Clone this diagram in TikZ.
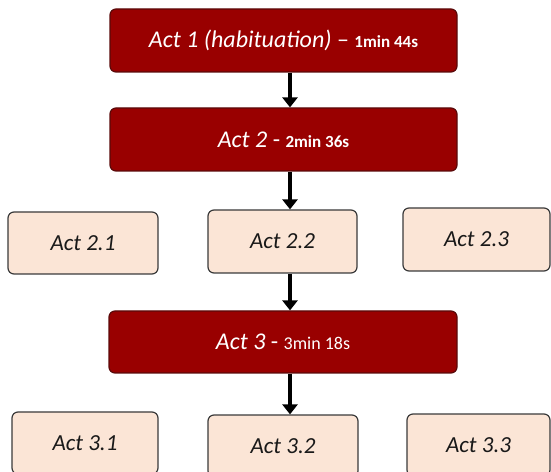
\documentclass[tikz,border=0pt]{standalone}
\usepackage{fontspec}
\setmainfont{Carlito}
\usepackage{tikz}
\usetikzlibrary{arrows.meta, positioning}
\definecolor{actRed}{HTML}{990000}
\definecolor{actRedLine}{HTML}{5A0A0A}
\definecolor{actPeach}{HTML}{FBE5D6}
\definecolor{actGrey}{HTML}{3A3A3A}
\tikzset{
    actMain/.style={
        rectangle,
        rounded corners=6pt,
        draw=actRedLine,
        fill=actRed,
        line width=1.2pt,
        text=white,
        minimum width=347pt,
        minimum height=63pt,
        font=\fontsize{24}{28}\selectfont\itshape
    },
    actSub/.style={
        rectangle,
        rounded corners=6pt,
        draw=actGrey,
        fill=actPeach,
        line width=1.2pt,
        text=black!90,
        minimum height=62pt,
        font=\fontsize{23}{27}\selectfont\itshape
    },
    flowArrow/.style={
        -{Triangle[length=10pt, width=15pt]},
        line width=4.5pt,
        black
    }
}
\newcommand{\durBold}[1]{{\upshape\bfseries\fontsize{17}{20}\selectfont #1}}
\newcommand{\durPlain}[1]{{\upshape\fontsize{18}{21}\selectfont #1}}

\begin{document}
\begin{tikzpicture}[x=1pt, y=1pt]
    \useasboundingbox (0,0) rectangle (551,471);

    % Main acts
    \node[actMain] (Act1) at (283.5,430.5) {Act 1 (habituation) {\upshape --} \durBold{1min 44s}};
    \node[actMain] (Act2) at (283.5,331.5) {Act 2 {\upshape -} \durBold{2min 36s}};
    \node[actMain, minimum width=348pt, minimum height=62pt] (Act3) at (283,129) {Act 3 {\upshape -} \durPlain{3min 18s}};

    % Sub acts of Act 2
    \node[actSub, minimum width=150pt] (Act21) at (83,228) {Act 2.1};
    \node[actSub, minimum width=149pt, minimum height=63pt] (Act22) at (282.5,229.5) {Act 2.2};
    \node[actSub, minimum width=147pt, minimum height=63pt] (Act23) at (476.5,231.5) {Act 2.3};

    % Sub acts of Act 3
    \node[actSub, minimum width=146pt] (Act31) at (85,28) {Act 3.1};
    \node[actSub, minimum width=150pt] (Act32) at (283,25) {Act 3.2};
    \node[actSub, minimum width=143pt] (Act33) at (478.5,26) {Act 3.3};

    % Arrows
    \draw[flowArrow] ([xshift=6.5pt]Act1.south) -- ([xshift=6.5pt]Act2.north);
    \draw[flowArrow] ([xshift=6.5pt]Act2.south) -- ([xshift=7.5pt]Act22.north);
    \draw[flowArrow] ([xshift=7.5pt]Act22.south) -- ([xshift=7pt]Act3.north);
    \draw[flowArrow] ([xshift=7pt]Act3.south) -- ([xshift=7pt]Act32.north);
\end{tikzpicture}
\end{document}
